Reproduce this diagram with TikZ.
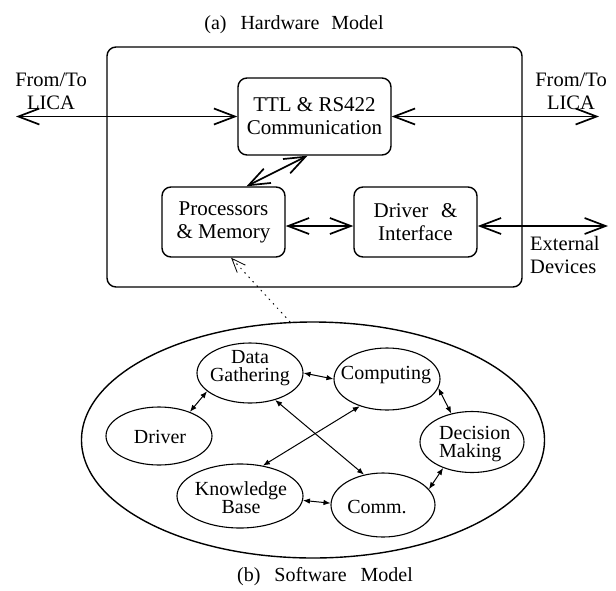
\documentclass[tikz,border=0pt]{standalone}
\usepackage{fontspec}
\setmainfont{Liberation Serif}
\usetikzlibrary{arrows.meta,shapes.geometric}

\begin{document}
\begin{tikzpicture}[x=1pt,y=-1pt,
  hwbox/.style={draw, line width=1.4pt, rounded corners=9pt, inner sep=0pt,
    align=center, font=\fontsize{21}{23}\selectfont},
  hwlink/.style={line width=1.7pt, {Straight Barb[length=21pt,width=16pt]}-{Straight Barb[length=21pt,width=16pt]}},
  swell/.style={draw, ellipse, line width=1.1pt, inner sep=0pt},
  swtext/.style={font=\fontsize{20}{18.5}\selectfont, align=center, inner sep=0pt},
  swlink/.style={line width=1pt, {Latex[length=7pt,width=5.5pt]}-{Latex[length=7pt,width=5.5pt]}},
  caption/.style={font=\fontsize{20}{22}\selectfont, inner sep=0pt},
  side/.style={font=\fontsize{20.5}{23}\selectfont, inner sep=0pt},
]
\useasboundingbox (0,0) rectangle (616,590);

% ---------- hardware model ----------
\node[caption] (hwtitle) at (294,25) {(a)\hspace{0.7em}Hardware\hspace{0.6em}Model};
\node[draw, line width=1.4pt, rounded corners=9pt, minimum width=415pt, minimum height=240pt]
  (hw) at (314.5,167) {};
\node[hwbox, minimum width=153pt, minimum height=77pt] (ttl) at (314.5,116.5)
  {TTL \& RS422\\Communication};
\node[hwbox, minimum width=123pt, minimum height=70pt] (proc) at (223.5,222)
  {Processors\\\& Memory};
\node[hwbox, minimum width=123pt, minimum height=70pt] (drv) at (415.5,222)
  {Driver\hspace{0.6em}\&\\Interface};

\node[side, align=center] (licaLt) at (51,91.5) {From/To\\LICA};
\node[side, align=center] (licaRt) at (571,91.5) {From/To\\LICA};
\node[side, align=left, anchor=west] (extt) at (530,254.5) {External\\Devices};

\coordinate (licaL) at (16,116.5);
\coordinate (licaR) at (599,116.5);
\coordinate (ext) at (608,226);

\draw[hwlink] (licaL) -- (ttl.west);
\draw[hwlink] (ttl.east) -- (licaR);
\draw[hwlink] ([xshift=23pt]proc.north) -- ([xshift=-7pt]ttl.south);
\draw[hwlink] ([yshift=-4pt]proc.east) -- ([yshift=-4pt]drv.west);
\draw[hwlink] ([yshift=-4pt]drv.east) -- (ext);

% ---------- software model ----------
\node[swell, line width=1.4pt, minimum width=463pt, minimum height=236pt] (sw) at (313,440) {};

\node[swell, minimum width=106pt, minimum height=60pt] (dg) at (250,373) {};
\node[swell, minimum width=106pt, minimum height=62pt] (comp) at (387,379) {};
\node[swell, minimum width=106pt, minimum height=58pt] (drvs) at (159,436) {};
\node[swell, minimum width=104pt, minimum height=61pt] (dec) at (472,442) {};
\node[swell, minimum width=126pt, minimum height=64pt] (kb) at (240,496) {};
\node[swell, minimum width=104pt, minimum height=64pt] (comm) at (383,505) {};

\node[swtext] (dgT) at (250,368) {Data\\Gathering};
\node[swtext] (compT) at (386,375) {Computing};
\node[swtext] (drvsT) at (160,437) {Driver};
\node[swtext, align=left, anchor=west] (decT) at (439,444) {Decision\\Making};
\node[swtext] (kbT) at (241,497.5) {Knowledge\\Base};
\node[swtext] (commT) at (377,507) {Comm.};

\draw[swlink] (dg.east) -- (comp.west);
\draw[swlink] (drvs.38) -- (dg.203);
\draw[swlink] (comp.-10) -- (dec.126);
\draw[swlink] (dec.222) -- (comm.19);
\draw[swlink] (kb.-4) -- (comm.178);
\draw[swlink] (dg.-47) -- (comm.122);
\draw[swlink] (comp.225) -- (kb.53);

\node[caption] (swtitle) at (325,577) {(b)\hspace{0.7em}Software\hspace{0.7em}Model};

% link between the two models
\draw[line width=1pt, dash pattern=on 1pt off 5pt, line cap=round,
  -{Straight Barb[length=14pt,width=11pt,line width=0.8pt]}] (sw.101) -- (proc.-78);
\end{tikzpicture}
\end{document}
